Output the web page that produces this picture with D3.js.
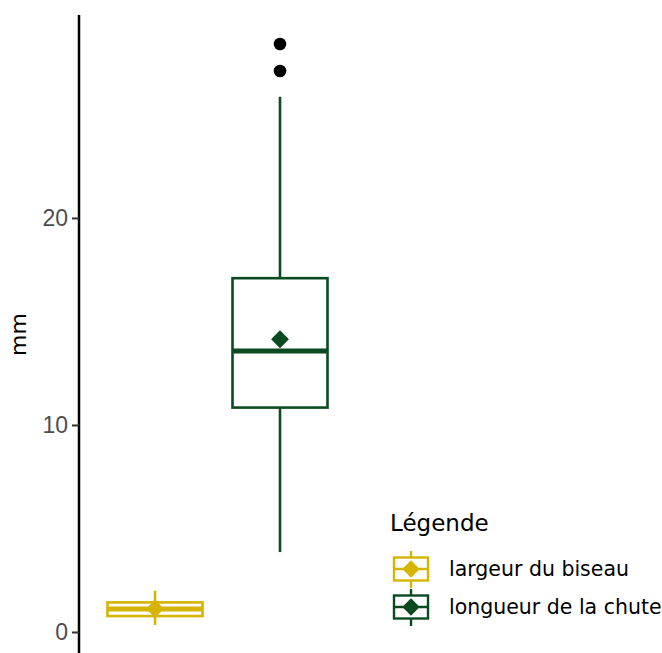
<!DOCTYPE html>
<html>
<head>
<meta charset="utf-8">
<script src="https://cdn.jsdelivr.net/npm/d3@7"></script>
<style>
  body { margin: 0; background: #fff; }
  text { font-family: "Liberation Sans", Arial, sans-serif; }
  .dv { font-family: "DejaVu Sans", sans-serif; }
</style>
</head>
<body>
<script>
// Data
const categories = ['largeur du biseau', 'longueur de la chute'];
const colors = ['#D5B500', '#0A4A20'];
const whiskerLow = [0.34, 3.86];
const q1 = [0.77, 10.84];
const median = [1.11, 13.57];
const q3 = [1.43, 17.09];
const whiskerHigh = [2.0, 25.85];
const means = [1.12, 14.14];
const outliers = [[], [27.1, 28.4]];
const yTicks = [0, 10, 20];

const W = 662, H = 653;
const svg = d3.select('body').append('svg')
  .attr('width', W)
  .attr('height', H);

// Scales
const lo = 0.34, hi = 28.4;
const pad = (hi - lo) * 0.05;
const y = d3.scaleLinear().domain([lo - pad, hi + pad]).range([654, 15]);
const x = d3.scalePoint().domain(categories).range([80, 355]).padding(0.6);
const boxW = x.step() * 0.76;

// Y axis
const yAxis = d3.axisLeft(y).tickValues(yTicks).tickSize(7).tickPadding(4);
const ag = svg.append('g')
  .attr('transform', 'translate(79,0)')
  .call(yAxis);
ag.select('.domain').attr('stroke', '#000').attr('stroke-width', 2.5)
  .attr('d', `M0,${y.range()[1]}V${H}`);
ag.selectAll('.tick line').attr('stroke', '#333').attr('stroke-width', 2);
ag.selectAll('.tick text').attr('fill', '#4d4d4d').style('font-size', '23px');

svg.append('text')
  .attr('class', 'dv')
  .attr('transform', `translate(26,${(y.range()[0] + y.range()[1]) / 2}) rotate(-90)`)
  .attr('text-anchor', 'middle')
  .style('font-size', '22px')
  .attr('fill', '#000')
  .text('mm');

// Boxplots
const groups = svg.selectAll('.box')
  .data(categories)
  .enter()
  .append('g')
  .attr('class', 'box');

groups.each(function (c, i) {
  const g = d3.select(this);
  const cx = x(c);
  const col = colors[i];
  g.append('line')
    .attr('x1', cx).attr('x2', cx)
    .attr('y1', y(whiskerHigh[i])).attr('y2', y(q3[i]))
    .attr('stroke', col).attr('stroke-width', 2.6);
  g.append('line')
    .attr('x1', cx).attr('x2', cx)
    .attr('y1', y(q1[i])).attr('y2', y(whiskerLow[i]))
    .attr('stroke', col).attr('stroke-width', 2.6);
  g.append('rect')
    .attr('x', cx - boxW / 2)
    .attr('y', y(q3[i]))
    .attr('width', boxW)
    .attr('height', y(q1[i]) - y(q3[i]))
    .attr('fill', '#fff')
    .attr('stroke', col).attr('stroke-width', 2.6);
  g.append('line')
    .attr('x1', cx - boxW / 2).attr('x2', cx + boxW / 2)
    .attr('y1', y(median[i])).attr('y2', y(median[i]))
    .attr('stroke', col).attr('stroke-width', 5);
  g.append('path')
    .attr('d', d3.symbol().type(d3.symbolSquare).size(160)())
    .attr('transform', `translate(${cx},${y(means[i])}) rotate(45)`)
    .attr('fill', col);
  g.selectAll('circle')
    .data(outliers[i])
    .enter()
    .append('circle')
    .attr('cx', cx)
    .attr('cy', d => y(d))
    .attr('r', 6.3)
    .attr('fill', '#000');
});

// Legend
const lg = svg.append('g').attr('transform', 'translate(390,0)');
lg.append('text')
  .attr('class', 'dv')
  .attr('x', 0).attr('y', 531)
  .style('font-size', '23px')
  .attr('fill', '#000')
  .text('Légende');

const keys = lg.selectAll('.key')
  .data(categories)
  .enter()
  .append('g')
  .attr('class', 'key')
  .attr('transform', (d, i) => `translate(0,${569 + i * 38})`);

keys.each(function (c, i) {
  const g = d3.select(this);
  const col = colors[i];
  const kx = 21;
  g.append('line').attr('x1', kx).attr('x2', kx).attr('y1', -18).attr('y2', 19)
    .attr('stroke', col).attr('stroke-width', 2.4);
  g.append('rect').attr('x', 4).attr('y', -11.5).attr('width', 34).attr('height', 23)
    .attr('fill', '#fff').attr('stroke', col).attr('stroke-width', 2.4);
  g.append('line').attr('x1', 4).attr('x2', 38).attr('y1', 0).attr('y2', 0)
    .attr('stroke', col).attr('stroke-width', 2.4);
  g.append('path')
    .attr('d', d3.symbol().type(d3.symbolSquare).size(150)())
    .attr('transform', `translate(${kx},0) rotate(45)`)
    .attr('fill', col);
  g.append('text')
    .attr('class', 'dv')
    .attr('x', 59).attr('y', 0)
    .attr('dy', '0.36em')
    .style('font-size', '20.5px')
    .attr('fill', '#000')
    .text(c);
});
</script>
</body>
</html>
